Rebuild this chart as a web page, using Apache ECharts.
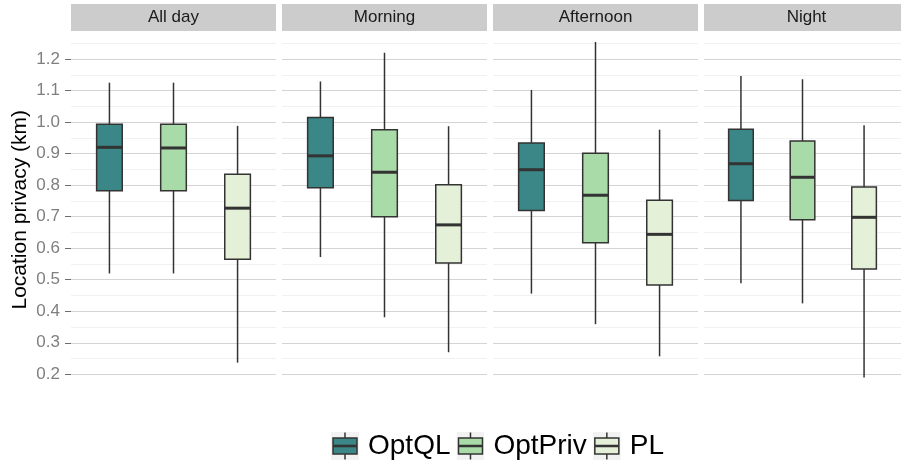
<!DOCTYPE html>
<html>
<head>
<meta charset="utf-8">
<script src="https://cdn.jsdelivr.net/npm/echarts@6/dist/echarts.min.js"></script>
<style>
  html, body { margin: 0; padding: 0; background: #ffffff; }
  #chart { width: 901px; height: 469px; }
</style>
</head>
<body>
<div id="chart"></div>
<script>
// ---- data ----
const facets = ['All day', 'Morning', 'Afternoon', 'Night'];
const methods = ['OptQL', 'OptPriv', 'PL'];
// each entry: [lower whisker, Q1, median, Q3, upper whisker], one per facet
const optQL = [
  [0.520, 0.782, 0.920, 0.993, 1.125],
  [0.572, 0.792, 0.893, 1.015, 1.129],
  [0.456, 0.720, 0.849, 0.934, 1.102],
  [0.489, 0.751, 0.868, 0.977, 1.146]
];
const optPriv = [
  [0.520, 0.782, 0.918, 0.993, 1.125],
  [0.381, 0.700, 0.841, 0.976, 1.220],
  [0.359, 0.617, 0.768, 0.901, 1.254],
  [0.425, 0.690, 0.825, 0.940, 1.136]
];
const pl = [
  [0.237, 0.565, 0.727, 0.835, 0.988],
  [0.270, 0.553, 0.674, 0.801, 0.987],
  [0.257, 0.483, 0.644, 0.752, 0.976],
  [0.190, 0.534, 0.698, 0.794, 0.990]
];
const yTicks = [0.2, 0.3, 0.4, 0.5, 0.6, 0.7, 0.8, 0.9, 1.0, 1.1, 1.2];
const yMinor = [0.25, 0.35, 0.45, 0.55, 0.65, 0.75, 0.85, 0.95, 1.05, 1.15, 1.25];
const yTitle = 'Location privacy (km)';

// ---- styling / layout ----
const seriesData = [optQL, optPriv, pl];
const fills = ['#3b8686', '#a8dba8', '#e5f0d8'];
const FONT = '"Liberation Sans", Arial, Helvetica, sans-serif';
const panelLeft = [71, 282, 493, 704];
const panelWidth = 205;
const panelTop = 31;
const panelHeight = 357.5;
const stripTop = 4;
const stripHeight = 27;
const yMin = 0.155, yMax = 1.289;

function keyIcon(fill) {
  const svg = '<svg xmlns="http://www.w3.org/2000/svg" width="28" height="28" viewBox="0 0 28 28">' +
    '<rect x="0" y="0" width="28" height="28" fill="#f2f2f2"/>' +
    '<line x1="14" y1="0.5" x2="14" y2="6" stroke="#333333" stroke-width="1.5"/>' +
    '<line x1="14" y1="22" x2="14" y2="27.5" stroke="#333333" stroke-width="1.5"/>' +
    '<rect x="2" y="6" width="24" height="16" fill="' + fill + '" stroke="#333333" stroke-width="1.5"/>' +
    '<line x1="2" y1="14" x2="26" y2="14" stroke="#333333" stroke-width="2.6"/>' +
    '</svg>';
  return 'image://data:image/svg+xml;charset=utf-8,' + encodeURIComponent(svg);
}

function renderBox(params, api) {
  const x = api.value(0);
  const lo = api.coord([x, api.value(1)]);
  const q1 = api.coord([x, api.value(2)]);
  const md = api.coord([x, api.value(3)]);
  const q3 = api.coord([x, api.value(4)]);
  const hi = api.coord([x, api.value(5)]);
  const half = api.size([0.4, 0])[0] / 2;
  const ink = '#333333';
  return {
    type: 'group',
    children: [
      { type: 'line', shape: { x1: lo[0], y1: lo[1], x2: q1[0], y2: q1[1] }, style: { stroke: ink, lineWidth: 1.5 } },
      { type: 'line', shape: { x1: q3[0], y1: q3[1], x2: hi[0], y2: hi[1] }, style: { stroke: ink, lineWidth: 1.5 } },
      { type: 'rect', shape: { x: q3[0] - half, y: q3[1], width: 2 * half, height: q1[1] - q3[1] },
        style: { fill: api.visual('color'), stroke: ink, lineWidth: 1.5 } },
      { type: 'line', shape: { x1: md[0] - half, y1: md[1], x2: md[0] + half, y2: md[1] }, style: { stroke: ink, lineWidth: 3 } }
    ]
  };
}

const grids = [], xAxes = [], yAxes = [], series = [], graphics = [];
facets.forEach(function (name, i) {
  grids.push({ left: panelLeft[i], top: panelTop, width: panelWidth, height: panelHeight, containLabel: false });
  xAxes.push({ type: 'value', gridIndex: i, min: 0.4, max: 3.6, show: false });
  // main axis: major grid lines, ticks and labels
  yAxes.push({
    type: 'value', gridIndex: i, min: yMin, max: yMax, position: 'left',
    name: i === 0 ? yTitle : '',
    nameLocation: 'middle', nameGap: 40, nameRotate: 90,
    nameTextStyle: { fontFamily: FONT, fontSize: 21, color: '#000000' },
    axisLine: { show: false },
    axisTick: { show: i === 0, length: 6, customValues: yTicks, lineStyle: { color: '#6e6e6e', width: 1 } },
    axisLabel: { show: i === 0, customValues: yTicks, margin: 11, fontFamily: FONT, fontSize: 17, color: '#7f7f7f',
      formatter: function (v) { return v.toFixed(1); } },
    splitLine: { show: true, lineStyle: { color: '#d4d4d4', width: 1 } }
  });
  // helper axis: minor grid lines
  yAxes.push({
    type: 'value', gridIndex: i, min: yMin, max: yMax, position: 'right',
    axisLine: { show: false },
    axisTick: { show: false, customValues: yMinor },
    axisLabel: { show: false, customValues: yMinor },
    splitLine: { show: true, lineStyle: { color: '#f1f1f1', width: 1 } }
  });
  methods.forEach(function (m, k) {
    const v = seriesData[k][i];
    series.push({
      name: m, type: 'custom', xAxisIndex: i, yAxisIndex: 2 * i,
      itemStyle: { color: fills[k] },
      encode: { x: 0, y: [1, 2, 3, 4, 5] },
      renderItem: renderBox,
      data: [[k + 1, v[0], v[1], v[2], v[3], v[4]]],
      z: 3
    });
  });
  graphics.push({
    type: 'group', left: panelLeft[i], top: stripTop,
    children: [
      { type: 'rect', shape: { x: 0, y: 0, width: panelWidth, height: stripHeight }, style: { fill: '#cccccc' } },
      { type: 'text', style: { text: name, x: panelWidth / 2, y: stripHeight / 2, align: 'center', verticalAlign: 'middle',
        font: '17px ' + FONT, fill: '#1a1a1a' } }
    ]
  });
});

const chart = echarts.init(document.getElementById('chart'), null, { renderer: 'canvas' });
chart.setOption({
  animation: false,
  backgroundColor: '#ffffff',
  grid: grids,
  xAxis: xAxes,
  yAxis: yAxes,
  graphic: graphics,
  legend: {
    data: methods.map(function (m, k) { return { name: m, icon: keyIcon(fills[k]) }; }),
    left: 326, top: 427,
    itemWidth: 28, itemHeight: 28, itemGap: 6,
    textStyle: { fontFamily: FONT, fontSize: 28, color: '#000000', padding: [0, 0, 0, 4] },
    selectedMode: false
  },
  tooltip: { show: false },
  series: series
});
</script>
</body>
</html>
